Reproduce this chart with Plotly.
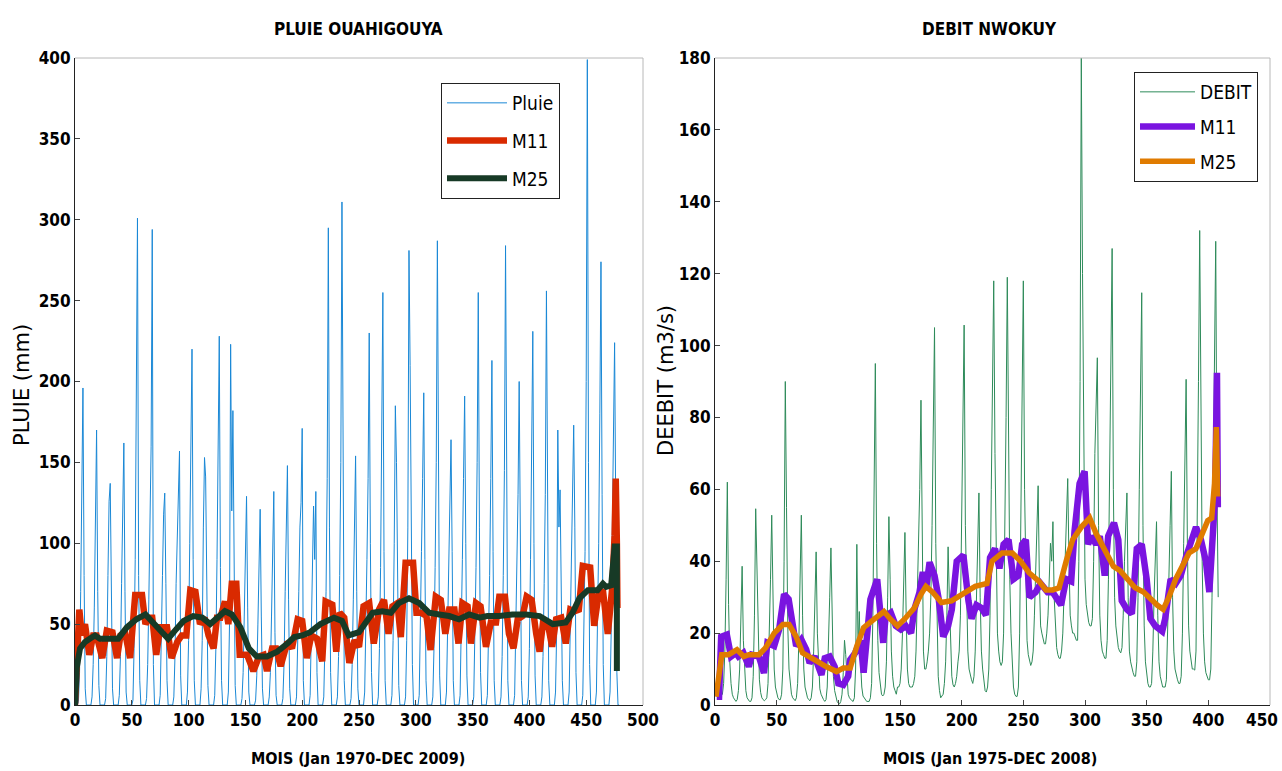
import plotly.graph_objects as go

# ---------------- PLUIE OUAHIGOUYA (monthly rain, mm), Jan 1970 - Dec 2009 ----------------
pluie_1970s = [
    0, 0, 0, 2, 20, 70, 150, 196, 80, 10, 0, 0,
    0, 0, 0, 5, 25, 60, 120, 170, 70, 12, 0, 0,
    0, 0, 0, 4, 30, 80, 126, 137, 75, 10, 0, 0,
    0, 0, 0, 6, 30, 75, 110, 162, 70, 8, 0, 0,
    0, 0, 0, 3, 35, 90, 200, 301, 80, 15, 0, 0,
    0, 0, 0, 4, 25, 65, 120, 160, 294, 25, 0, 0,
    0, 0, 0, 6, 35, 80, 118, 131, 75, 15, 0, 0,
    0, 0, 0, 5, 30, 75, 105, 125, 157, 18, 0, 0,
    0, 0, 0, 8, 40, 100, 160, 220, 90, 15, 0, 0,
    0, 0, 0, 10, 40, 110, 153, 141, 70, 12, 0, 0,
]
pluie_1980s = [
    0, 0, 0, 6, 35, 90, 150, 228, 85, 15, 0, 0,
    0, 0, 0, 8, 50, 223, 120, 182, 70, 12, 0, 0,
    0, 0, 0, 4, 20, 55, 100, 129, 60, 8, 0, 0,
    0, 0, 0, 3, 18, 50, 95, 121, 55, 10, 0, 0,
    0, 0, 0, 5, 20, 55, 95, 132, 45, 6, 0, 0,
    0, 0, 0, 4, 25, 70, 110, 148, 65, 10, 0, 0,
    0, 0, 0, 5, 30, 70, 110, 125, 171, 15, 0, 0,
    0, 0, 0, 6, 40, 80, 123, 90, 132, 20, 0, 0,
    0, 0, 0, 5, 30, 70, 140, 295, 110, 20, 0, 0,
    0, 0, 0, 5, 30, 80, 150, 311, 90, 15, 0, 0,
]
pluie_1990s = [
    0, 0, 0, 4, 25, 65, 110, 154, 70, 10, 0, 0,
    0, 0, 0, 8, 40, 90, 140, 230, 100, 20, 0, 0,
    0, 0, 0, 5, 35, 85, 150, 255, 95, 15, 0, 0,
    0, 0, 0, 6, 40, 100, 185, 150, 85, 12, 0, 0,
    0, 0, 0, 5, 40, 110, 281, 210, 120, 25, 0, 0,
    0, 0, 0, 6, 40, 95, 140, 193, 90, 15, 0, 0,
    0, 0, 0, 5, 35, 85, 150, 287, 100, 18, 0, 0,
    0, 0, 0, 8, 45, 100, 130, 164, 95, 15, 0, 0,
    0, 0, 0, 6, 40, 90, 140, 191, 100, 18, 0, 0,
    0, 0, 0, 5, 35, 85, 150, 255, 110, 20, 0, 0,
]
pluie_2000s = [
    0, 0, 0, 6, 35, 80, 140, 213, 95, 15, 0, 0,
    0, 0, 0, 5, 30, 80, 145, 284, 90, 15, 0, 0,
    0, 0, 0, 6, 40, 90, 130, 200, 95, 15, 0, 0,
    0, 0, 0, 5, 35, 90, 150, 231, 100, 18, 0, 0,
    0, 0, 0, 5, 30, 75, 130, 256, 95, 15, 0, 0,
    0, 0, 0, 8, 45, 170, 110, 133, 80, 15, 0, 0,
    0, 0, 0, 8, 45, 100, 140, 173, 110, 20, 0, 0,
    0, 0, 0, 6, 40, 95, 200, 399, 150, 25, 0, 0,
    0, 0, 0, 8, 45, 100, 180, 274, 130, 25, 0, 0,
    0, 0, 0, 8, 45, 110, 170, 224, 120, 20, 0, 0,
]
pluie = pluie_1970s + pluie_1980s + pluie_1990s + pluie_2000s
mois_pluie = list(range(0, len(pluie)))

# moving averages (month, value)
m11_pluie_x = [0, 1.5, 3.8, 6, 8.8, 12.6, 16, 19, 24, 28, 33, 37, 40, 44, 48.5, 53, 59, 62, 65, 68,
               71.5, 75, 81, 85, 90, 94, 98, 101.5, 106, 110, 114, 117.6, 122, 125, 128, 132, 135, 138,
               142, 145, 151.5, 157, 162, 166, 169, 173.5, 177, 181, 187, 191, 196, 200, 204, 208, 213,
               217.6, 220.6, 226.5, 230, 233, 237, 241.5, 246, 250, 254, 259, 263, 267.6, 272, 276,
               279.4, 283.8, 286.8, 291, 297.6, 300.6, 304.4, 309.4, 313, 317.6, 322, 326, 329.4, 334,
               337.6, 341, 345.6, 348.5, 353, 357, 361.8, 366, 370.6, 373.5, 378.5, 382, 386, 389.7,
               394, 397.6, 402, 406, 409, 412, 416, 420, 423.5, 428, 432, 436, 439.7, 443.5, 447,
               453.5, 457, 461, 464.7, 469, 473, 475, 476, 477, 477.5]
m11_pluie_y = [0, 20, 59, 43, 50, 31, 43, 43, 29, 46, 45, 29, 43, 45, 29, 68, 68, 50, 54, 54,
               31, 48, 48, 29, 39, 43, 43, 71, 70, 50, 54, 43, 35, 54, 54, 64, 50, 75,
               75, 31, 31, 21, 30, 31, 21, 35, 35, 24, 39, 35, 53, 52, 29, 43, 41,
               27, 64, 62, 33, 57, 54, 26, 40, 36, 61, 63, 38, 59, 65, 44,
               61, 63, 42, 88, 88, 57, 57, 55, 34, 67, 65, 44, 59, 59,
               38, 63, 61, 38, 63, 61, 36, 51, 51, 67, 67, 44, 35, 53,
               55, 67, 65, 44, 33, 51, 51, 36, 53, 54, 38, 59, 58, 59, 86,
               85, 49, 69, 71, 44, 73, 105, 140, 100, 60]
m25_pluie_x = [0, 1.5, 4.4, 8.8, 13, 17.6, 22, 31, 38, 45.6, 54, 62, 67.6, 75, 82, 88, 95.6, 104, 112,
               119, 125, 132, 138, 145.6, 153, 160, 169, 178, 187, 193, 200, 207, 216, 222, 228, 235,
               241, 250, 256, 262, 270.6, 278, 285, 294, 303, 311.8, 320.6, 329.4, 338, 347, 356, 363,
               373.5, 385, 397, 409, 420.6, 432, 438, 444, 451.5, 460, 464.7, 467.6, 472, 475, 477, 477]
m25_pluie_y = [0, 23, 35, 39, 41, 43, 41, 41, 41, 48, 53, 56, 52, 46, 41, 46, 52, 55, 54,
               50, 54, 58, 56, 48, 35, 30, 30, 33, 38, 42, 43, 45, 50, 52, 54, 52,
               43, 45, 51, 57, 58, 57, 63, 66, 63, 57, 56, 55, 53, 56, 54, 55,
               55, 56, 56, 55, 50, 51, 57, 66, 71, 71, 75, 73, 74, 98, 98, 21]

# ---------------- DEBIT NWOKUY (monthly discharge, m3/s), Jan 1975 - Dec 2008 ----------------
debit_1975_84 = [
    3, 2.5, 2, 2, 2.5, 3, 6, 15, 35, 62, 28, 12,
    6, 3, 2, 1.5, 1, 1.5, 4, 10, 22, 38.6, 18, 8,
    4, 2, 1.5, 1, 1, 2, 8, 25, 54.6, 35, 15, 7,
    3.5, 2, 1.5, 1.2, 1.5, 2, 6, 18, 35, 52.8, 25, 10,
    5, 3, 2, 1.5, 1.5, 3, 10, 40, 90, 55, 22, 10,
    5, 3, 2, 1.5, 1.2, 2, 6, 18, 38, 52.8, 25, 10,
    5, 3, 2, 1.5, 1.2, 2, 5, 15, 30, 42.6, 20, 9,
    4.5, 3, 2, 1.5, 1, 1.5, 5, 15, 30, 43.7, 20, 8,
    4, 2, 1, 0.5, 0.3, 1, 3, 9, 18, 14, 7, 3,
    2, 1.5, 1.2, 1, 2, 10, 44.7, 15, 26, 12, 5, 2.5,
]
debit_1985_94 = [
    2, 1.5, 1, 1, 1, 2, 6, 25, 55, 95, 45, 18,
    9, 5, 3, 2.5, 3, 5, 12, 30, 52.4, 35, 15, 8,
    5, 4, 3, 5, 5, 6, 10, 20, 35, 48, 25, 10,
    6, 5, 5, 5, 6, 8, 15, 30, 50, 60, 84.8, 35,
    15, 10, 10, 12, 15, 20, 30, 50, 80, 105, 45, 20,
    8, 4, 2, 2.5, 3, 6, 12, 25, 44, 30, 15, 8,
    5.6, 5, 6, 8, 12, 15, 25, 50, 80, 105.7, 50, 25,
    15, 10, 8, 7, 6, 8, 15, 30, 45, 59, 30, 15,
    10, 6, 4, 3.6, 5, 10, 25, 60, 90, 118, 70, 35,
    20, 15, 12, 11, 12, 20, 45, 80, 119, 70, 35, 20,
]
debit_1995_2004 = [
    10, 5, 3, 2.4, 2.4, 5, 20, 50, 80, 118, 60, 30,
    18, 14, 12, 11, 12, 15, 25, 40, 50, 61, 35, 22,
    20, 18, 17, 17, 20, 25, 35, 45, 40, 51, 30, 20,
    16, 14, 13, 13, 15, 20, 30, 45, 55, 63, 40, 25,
    22, 20, 20, 19, 18, 18, 40, 90, 180, 120, 60, 35,
    28, 25, 23, 22, 22, 24, 40, 70, 85, 96.6, 50, 25,
    18, 15, 14, 13, 13, 18, 35, 70, 100, 127, 60, 30,
    22, 18, 16, 15, 14.5, 16, 25, 40, 50, 59, 30, 15,
    12, 10, 9, 8, 8, 12, 30, 60, 90, 114.7, 50, 22,
    12, 8, 6, 5, 5, 6, 15, 30, 42, 51, 25, 12,
]
debit_2005_08 = [
    8, 6, 5, 5, 5, 7, 18, 35, 50, 65, 30, 15,
    10, 8, 7, 6, 6, 8, 20, 45, 70, 90.6, 45, 22,
    15, 12, 10, 10, 9.7, 15, 45, 90, 132, 80, 40, 20,
    12, 9, 8, 7, 7, 10, 30, 70, 100, 129, 60, 30,
]
debit = debit_1975_84 + debit_1985_94 + debit_1995_2004 + debit_2005_08
mois_debit = list(range(1, len(debit) + 1))

m11_debit_x = [1.4, 3.3, 5, 9.6, 13, 17, 19, 23, 27.4, 30, 35.6, 39.7, 42.5, 48, 52, 56, 59.7, 63, 65.8,
               70, 74, 76.7, 80.8, 86.3, 89, 93, 97, 100, 104, 108, 109.6, 113.7, 118, 120.5, 124, 126,
               131.5, 134, 136.4, 138.4, 142.5, 146.6, 150.7, 154.8, 159, 161.6, 165.8, 168.5, 171, 174,
               178, 181.4, 185, 189, 192, 196, 201.4, 205.5, 208, 212, 216, 219.7, 223, 227, 230.6, 234,
               238, 242, 246, 249, 252, 255, 260, 264, 267, 269.7, 273.8, 278, 280.6, 284.7, 288.8,
               291.5, 295.6, 299.7, 302.5, 305, 309, 312, 316, 318.8, 323.5, 327, 329.8, 334, 338, 342,
               346, 350, 353, 357, 362.6, 365, 369.4, 373.5, 377.6, 381.7, 385.8, 390, 394, 398, 400.8,
               403.5, 405.5, 407, 407.7]
m11_debit_y = [2.3, 2.3, 19, 19.6, 13.5, 14.5, 13.5, 14.5, 10.7, 14, 13.5, 8.9, 17.3, 16.4, 21, 30.8, 29.4, 22, 16.4,
               18.2, 15.4, 11.7, 13.5, 8.4, 13, 13.5, 10.7, 6, 5.6, 8, 12.6, 14.5, 18, 9, 20, 29.4,
               35, 26.6, 17.3, 24.8, 25.7, 22, 21, 22, 20, 26.6, 31.3, 37, 32, 39.7,
               36, 29.4, 19, 22, 26.6, 40, 41.7, 29, 24, 27.8, 27, 25, 41, 43.5, 38, 44.7,
               46, 35, 36, 44.7, 46, 30, 31.4, 33.8, 32.6, 31.4, 31.4, 29, 27.8, 35, 34.4,
               48.3, 61.6, 65, 44.7, 47, 44.7, 47, 36, 47, 50.7, 46, 29, 26.6, 25.4, 43.5,
               44.7, 35, 24, 22, 20.5, 24, 35, 33.8, 36, 41, 44.7, 49.5, 46, 40, 31.4,
               46, 58, 92.4, 55]
m25_debit_x = [0.8, 2.7, 5.5, 11, 17.8, 23.3, 27.4, 35.6, 41, 48, 55, 60, 65.8, 71, 76.7, 83.6, 90, 98.6,
               104, 109.6, 115, 120.5, 128.8, 137, 142.5, 148, 153.4, 161.6, 167, 171, 176.7, 183.6,
               191.8, 200, 211, 220.5, 224.6, 232.8, 241, 247.8, 254.6, 262.8, 268.3, 273.8, 279,
               284.7, 290, 297, 303.8, 309, 316, 323, 328.4, 335, 340.7, 347.5, 354, 358.5, 363.4,
               368, 373.5, 379, 384.4, 390, 394, 399.5, 402.7, 405, 406.5, 407.6]
m25_debit_y = [2.3, 8, 14, 14, 15.4, 13.5, 14, 14, 15.9, 20, 22.4, 22.4, 19, 14.5, 13.5, 12, 10.7, 9.3,
               10.3, 10.3, 16.4, 21.5, 23.8, 26, 23.8, 22, 23.8, 27, 30.8, 33, 31.3, 28.5,
               29, 30.8, 33, 33.8, 40, 42.3, 42.3, 40, 36.8, 34.4, 32, 32, 32.6,
               40, 46, 49.5, 52, 47.7, 43.5, 38.6, 37.4, 35, 32.6, 31.4, 29, 27.8, 26.6,
               30, 35, 39, 42.3, 43.5, 47, 51.3, 52, 61.6, 77.3, 58]

# tick values
ticks_x_pluie = list(range(0, 501, 50))
ticks_x_debit = list(range(0, 451, 50))
ticks_y_pluie = list(range(0, 401, 50))
ticks_y_debit = list(range(0, 181, 20))

# ---------------- figure ----------------
W, H = 1282, 771
L_X = [75 / W, 643 / W]
R_X = [715 / W, 1270 / W]
Y_D = [1 - 705 / H, 1 - 58 / H]

COND = "DejaVu Sans Condensed, Liberation Sans Narrow, Liberation Sans, Arial, sans-serif"
WIDE = "DejaVu Sans, Liberation Sans, Arial, sans-serif"

fig = go.Figure()

fig.add_trace(go.Scatter(x=mois_pluie, y=pluie, mode="lines", name="Pluie",
                         line=dict(color="#1a88d6", width=1), xaxis="x", yaxis="y",
                         legend="legend", legendgroup="a"))
fig.add_trace(go.Scatter(x=m11_pluie_x, y=m11_pluie_y, mode="lines", name="M11",
                         line=dict(color="#d92a00", width=6.5), xaxis="x", yaxis="y",
                         legend="legend", legendgroup="b"))
fig.add_trace(go.Scatter(x=m25_pluie_x, y=m25_pluie_y, mode="lines", name="M25",
                         line=dict(color="#173a26", width=6), xaxis="x", yaxis="y",
                         legend="legend", legendgroup="c"))

fig.add_trace(go.Scatter(x=mois_debit, y=debit, mode="lines", name="DEBIT",
                         line=dict(color="#2e8b5a", width=1), xaxis="x2", yaxis="y2",
                         legend="legend2", legendgroup="d"))
fig.add_trace(go.Scatter(x=m11_debit_x, y=m11_debit_y, mode="lines", name="M11",
                         line=dict(color="#7a14e0", width=6.5), xaxis="x2", yaxis="y2",
                         legend="legend2", legendgroup="e"))
fig.add_trace(go.Scatter(x=m25_debit_x, y=m25_debit_y, mode="lines", name="M25",
                         line=dict(color="#e07b00", width=5.5), xaxis="x2", yaxis="y2",
                         legend="legend2", legendgroup="f"))

tickfont = dict(family=COND, size=17, color="black", weight="bold")
axis_common = dict(showgrid=False, zeroline=False, ticks="inside", ticklen=5, tickwidth=1,
                   tickcolor="#444", showline=True, linewidth=1, linecolor="#222",
                   tickfont=tickfont, mirror=False, automargin=False)

# last debit x tick label drawn separately so it is not cut at the page edge
debit_tick_text = [str(v) for v in ticks_x_debit[:-1]] + [""]

fig.update_layout(
    width=W, height=H,
    margin=dict(l=0, r=0, t=0, b=0, autoexpand=False),
    paper_bgcolor="white", plot_bgcolor="white",
    xaxis=dict(domain=L_X, range=[0, 500], tickvals=ticks_x_pluie, anchor="y", **axis_common),
    yaxis=dict(domain=Y_D, range=[0, 400], tickvals=ticks_y_pluie, anchor="x", **axis_common),
    xaxis2=dict(domain=R_X, range=[0, 450], tickvals=ticks_x_debit, ticktext=debit_tick_text,
                anchor="y2", **axis_common),
    yaxis2=dict(domain=Y_D, range=[0, 180], tickvals=ticks_y_debit, anchor="x2", **axis_common),
    legend=dict(x=441 / W, y=1 - 83 / H, xanchor="left", yanchor="top",
                bgcolor="white", bordercolor="#222", borderwidth=1,
                font=dict(family=COND, size=19, color="black"),
                tracegroupgap=10, itemwidth=60),
    legend2=dict(x=1258 / W, y=1 - 72 / H, xanchor="right", yanchor="top",
                 bgcolor="white", bordercolor="#222", borderwidth=1,
                 font=dict(family=COND, size=19, color="black"),
                 tracegroupgap=7, itemwidth=55),
    showlegend=True,
)

# light grey top / right frame lines
for xa, ya in (("x", "y"), ("x2", "y2")):
    fig.add_shape(type="line", xref=f"{xa} domain", yref=f"{ya} domain",
                  x0=0, x1=1, y0=1, y1=1, line=dict(color="#b8b8b8", width=1))
    fig.add_shape(type="line", xref=f"{xa} domain", yref=f"{ya} domain",
                  x0=1, x1=1, y0=0, y1=1, line=dict(color="#b8b8b8", width=1))

def ann(text, x, y, size, family=COND, angle=0, weight="normal", xanchor="center"):
    fig.add_annotation(text=text, x=x / W, y=1 - y / H, xref="paper", yref="paper",
                       showarrow=False, textangle=angle, xanchor=xanchor, yanchor="middle",
                       font=dict(family=family, size=size, color="black", weight=weight))

ann("PLUIE OUAHIGOUYA", 358, 29, 17, weight="bold")
ann("DEBIT NWOKUY", 990, 29, 17, weight="bold")
ann("MOIS (Jan 1970-DEC 2009)", 358, 758, 16, weight="bold")
ann("MOIS (Jan 1975-DEC 2008)", 990, 758, 16, weight="bold")
ann("PLUIE (mm)", 22, 385, 21, family=WIDE, angle=-90)
ann("DEEBIT (m3/s)", 666, 381, 21, family=WIDE, angle=-90)
ann(str(ticks_x_debit[-1]), 1280, 720, 17, weight="bold", xanchor="right")

fig.write_html("out.html")
